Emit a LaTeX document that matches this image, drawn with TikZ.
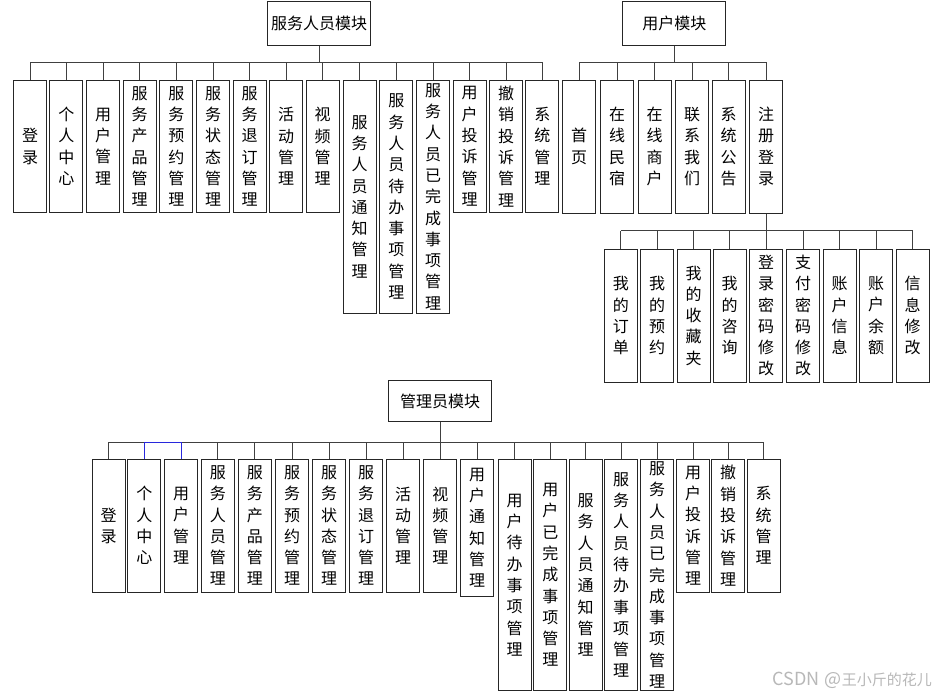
\documentclass[tikz,border=0pt]{standalone}
\usepackage{fontspec}
\newfontfamily\cjk{Noto Sans CJK SC}
\XeTeXlinebreaklocale "zh"
\XeTeXlinebreakskip=0pt plus 1pt
\begin{document}
\begin{tikzpicture}[x=1pt,y=-1pt,
  box/.style={draw=black!85, line width=1pt, inner sep=0pt, minimum width=33pt,
    text width=17pt, align=center, font=\cjk\fontsize{16}{21.3}\selectfont},
  rootbox/.style={draw=black!85, line width=1pt, inner sep=0pt,
    font=\cjk\fontsize{16}{18}\selectfont},
  conn/.style={draw=black!75, line width=0.9pt},
  hl/.style={draw={rgb,255:red,40;green,40;blue,220}, line width=0.9pt},
  wmark/.style={text=black!28, inner sep=0pt, font=\cjk\fontsize{15}{15}\selectfont}]
\useasboundingbox (0,0) rectangle (941,696);
\fill[white] (0,0) rectangle (941,696);

% ---------------- 服务人员模块 ----------------
\node[rootbox, minimum width=102.7pt, minimum height=43.3pt] (sr) at (319,23.4) {服务人员模块};
\coordinate (busA) at (0,62.3);
\foreach \n/\x/\b/\t in {
  1/30/212.7/登录, 2/66.4/212.7/个人中心, 3/103/212.7/用户管理,
  4/139.6/212.7/服务产品管理, 5/176.3/212.7/服务预约管理, 6/213/212.7/服务状态管理,
  7/249.7/212.7/服务退订管理, 8/286/212.7/活动管理, 9/322.7/212.7/视频管理,
  10/359.7/313.3/服务人员通知管理, 11/396.3/313.3/服务人员待办事项管理,
  12/433/313.3/服务人员已完成事项管理, 13/469.5/212.7/用户投诉管理,
  14/506/212.7/撤销投诉管理, 15/542.4/212.7/系统管理}
  \node[box, minimum height={\b-80}] (a\n) at (\x,{(80+\b)/2}) {\t};
\draw[conn] (sr.south) -- (sr.south |- busA);
\draw[conn] (a1.north |- busA) -- (a15.north |- busA);
\foreach \n in {1,...,15} \draw[conn] (a\n.north) -- (a\n.north |- busA);

% ---------------- 用户模块 ----------------
\node[rootbox, minimum width=103.3pt, minimum height=43.3pt] (ur) at (674.3,23.4) {用户模块};
\coordinate (busB) at (0,62.3);
\foreach \n/\x/\t in {1/579.2/首页, 2/617/在线民宿, 3/654.7/在线商户,
  4/692/联系我们, 5/728.6/系统公告, 6/766.2/注册登录}
  \node[box, minimum height=133] (b\n) at (\x,146.5) {\t};
\draw[conn] (ur.south) -- (ur.south |- busB);
\draw[conn] (b1.north |- busB) -- (b6.north |- busB);
\foreach \n in {1,...,6} \draw[conn] (b\n.north) -- (b\n.north |- busB);

\coordinate (busC) at (0,230.5);
\foreach \n/\x/\t in {1/620.8/我的订单, 2/657/我的预约, 3/693.7/我的收藏夹,
  4/729.5/我的咨询, 5/766.2/登录密码修改, 6/803/支付密码修改,
  7/839.7/账户信息, 8/876/账户余额, 9/912.7/信息修改}
  \node[box, minimum height=133.3] (c\n) at (\x,315.65) {\t};
\draw[conn] (b6.south) -- (b6.south |- busC);
\draw[conn] (c1.north |- busC) -- (c9.north |- busC);
\foreach \n in {1,...,9} \draw[conn] (c\n.north) -- (c\n.north |- busC);

% ---------------- 管理员模块 ----------------
\node[rootbox, minimum width=103.4pt, minimum height=41.2pt] (mr) at (440,401.1) {管理员模块};
\coordinate (busD) at (0,442);
\foreach \n/\x/\b/\t in {
  1/108.7/592/登录, 2/144.3/592/个人中心, 3/181/592/用户管理,
  4/217.9/592/服务人员管理, 5/254.8/592/服务产品管理, 6/292.2/592/服务预约管理,
  7/329/592/服务状态管理, 8/366/592/服务退订管理, 9/403/592/活动管理,
  10/440.4/592/视频管理, 11/477.2/596/用户通知管理,
  12/514.5/690.7/用户待办事项管理, 13/550.3/690.7/用户已完成事项管理,
  14/585.6/690.7/服务人员通知管理, 15/621/690.7/服务人员待办事项管理,
  16/657/690.7/服务人员已完成事项管理, 17/693/592/用户投诉管理,
  18/728.2/592/撤销投诉管理, 19/763.6/592/系统管理}
  \node[box, minimum height={\b-459.3}] (d\n) at (\x,{(459.3+\b)/2}) {\t};
\draw[conn] (mr.south) -- (mr.south |- busD);
\draw[conn] (d1.north |- busD) -- (d19.north |- busD);
\foreach \n in {1,4,5,...,19} \draw[conn] (d\n.north) -- (d\n.north |- busD);
\draw[hl] (d2.north) -- (d2.north |- busD) -- (d3.north |- busD) -- (d3.north);

% watermark
\node[wmark, anchor=east] (wm) at (932,680.7) {{\fontsize{18}{18}\selectfont CSDN}\hspace{5pt}{\fontsize{18}{18}\selectfont @}王小斤的花儿};
\end{tikzpicture}
\end{document}
